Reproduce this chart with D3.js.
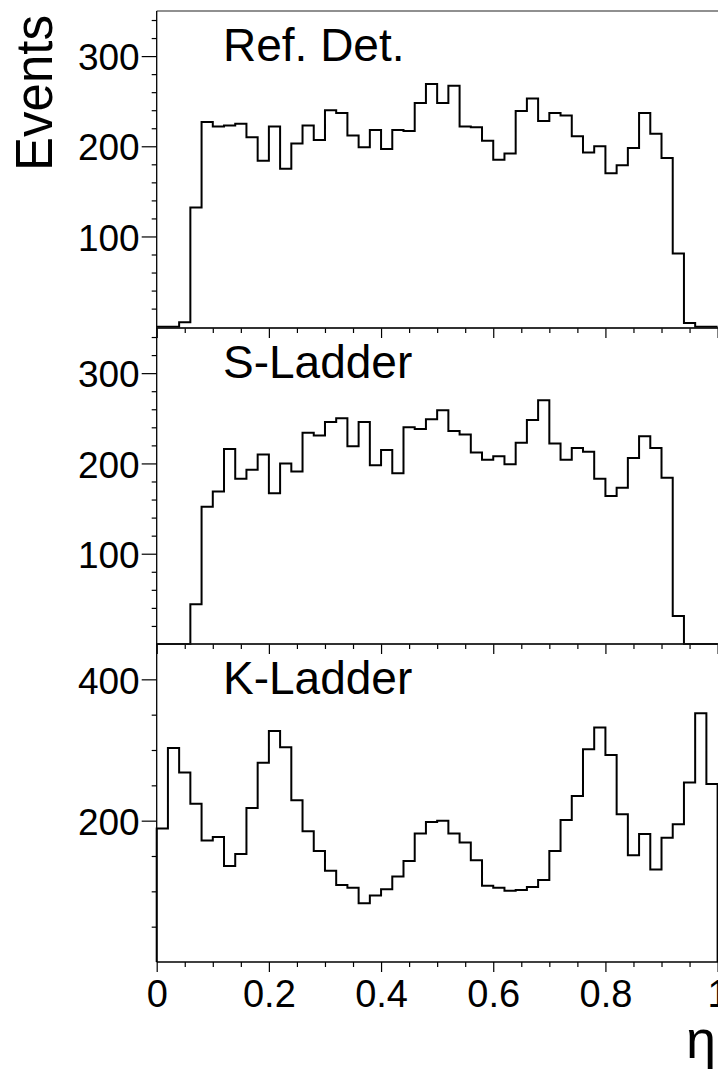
<!DOCTYPE html>
<html>
<head>
<meta charset="utf-8">
<script src="https://cdn.jsdelivr.net/npm/d3@7"></script>
<style>
  html, body { margin: 0; padding: 0; background: #fff; }
  svg { display: block; }
  text { font-family: "Liberation Sans", Arial, Helvetica, sans-serif; fill: #000; }
</style>
</head>
<body>
<svg id="chart" width="718" height="1069"></svg>
<script>
// Event counts per eta bin (50 bins of width 0.02 on [0, 1])
const refDet = [
  0, 0, 5, 132, 227, 222, 223, 225, 210, 184,
  222, 175, 203, 223, 207, 240, 237, 212, 199, 218,
  197, 218, 217, 248, 269, 248, 267, 222, 221, 206,
  185, 192, 239, 253, 228, 237, 234, 211, 193, 200,
  170, 179, 198, 237, 214, 187, 81, 4, 0, 0
];
const sLadder = [
  0, 0, 0, 44, 152, 169, 216, 183, 193, 210,
  167, 200, 191, 234, 231, 246, 250, 219, 246, 198,
  215, 189, 240, 238, 249, 259, 236, 232, 212, 204,
  208, 199, 223, 248, 270, 222, 204, 217, 213, 183,
  164, 173, 206, 230, 217, 184, 31, 0, 0, 0
];
const kLadder = [
  189, 303, 268, 224, 172, 177, 136, 153, 218, 282,
  327, 304, 229, 185, 157, 129, 109, 105, 83, 94,
  103, 121, 143, 182, 198, 200, 182, 169, 144, 108,
  105, 101, 102, 106, 116, 157, 201, 235, 301, 332,
  293, 209, 151, 181, 131, 176, 195, 254, 352, 252
];

const panelNames = ["Ref. Det.", "S-Ladder", "K-Ladder"];

const xMajorTicks = [0, 0.2, 0.4, 0.6, 0.8, 1];
const xTickLabels = ["0", "0.2", "0.4", "0.6", "0.8", "1"];
const xMinorTicks = [0.05, 0.1, 0.15, 0.25, 0.3, 0.35, 0.45, 0.5, 0.55, 0.65, 0.7, 0.75, 0.85, 0.9, 0.95];

const yMajorRefDet = [100, 200, 300];
const yMinorRefDet = [20, 40, 60, 80, 120, 140, 160, 180, 220, 240, 260, 280, 320, 340];
const yMajorSLadder = [100, 200, 300];
const yMinorSLadder = [20, 40, 60, 80, 120, 140, 160, 180, 220, 240, 260, 280, 320, 340];
const yMajorKLadder = [200, 400];
const yMinorKLadder = [50, 100, 150, 250, 300, 350];

const yRangeRefDet = [-1.5, 350];
const yRangeSLadder = [0, 350];
const yRangeKLadder = [0, 450];

// ---- layout ----
const svg = d3.select("#chart");
const plotLeft = 156.7, plotRight = 717.6;
const panelTop = [11, 328, 644];
const panelBottom = [328, 644, 962];
const nBins = refDet.length;

const x = d3.scaleLinear().domain([0, 1]).range([plotLeft, plotRight]);

const panels = [
  { name: panelNames[0], values: refDet, yDomain: yRangeRefDet, major: yMajorRefDet, minor: yMinorRefDet },
  { name: panelNames[1], values: sLadder, yDomain: yRangeSLadder, major: yMajorSLadder, minor: yMinorSLadder },
  { name: panelNames[2], values: kLadder, yDomain: yRangeKLadder, major: yMajorKLadder, minor: yMinorKLadder }
];

const axisColor = "#000";

panels.forEach((p, k) => {
  const y = d3.scaleLinear().domain(p.yDomain).range([panelBottom[k], panelTop[k]]);
  const g = svg.append("g");

  // top frame line
  g.append("line")
    .attr("x1", plotLeft).attr("x2", 718)
    .attr("y1", panelTop[k]).attr("y2", panelTop[k])
    .attr("stroke", "#222").attr("stroke-width", 1.2);

  // y axis: minor ticks, then major ticks with labels
  const yMinor = d3.axisLeft(y).tickValues(p.minor).tickSize(5).tickFormat("");
  const yMajor = d3.axisLeft(y).tickValues(p.major).tickSize(15).tickPadding(2)
    .tickFormat(d3.format("d"));
  const gyMin = g.append("g").attr("transform", `translate(${plotLeft},0)`).call(yMinor);
  const gyMaj = g.append("g").attr("transform", `translate(${plotLeft},0)`).call(yMajor);
  [gyMin, gyMaj].forEach(a => {
    a.select(".domain").remove();
    a.selectAll("line").attr("stroke", axisColor).attr("stroke-width", 1.2);
  });
  gyMaj.selectAll("text")
    .attr("font-size", 37).attr("font-family", "'Liberation Sans', Arial, sans-serif")
    .attr("dy", "0.37em").attr("fill", "#000");

  // left axis line
  g.append("line")
    .attr("x1", plotLeft).attr("x2", plotLeft)
    .attr("y1", panelTop[k]).attr("y2", panelBottom[k])
    .attr("stroke", axisColor).attr("stroke-width", 1.3);

  // x axis at panel bottom (ticks point downward)
  const xMinor = d3.axisBottom(x).tickValues(xMinorTicks).tickSize(5).tickFormat("");
  const xMajor = d3.axisBottom(x).tickValues(xMajorTicks).tickSize(10)
    .tickFormat((d, i) => xTickLabels[i]);
  const gxMin = g.append("g").attr("transform", `translate(0,${panelBottom[k]})`).call(xMinor);
  const gxMaj = g.append("g").attr("transform", `translate(0,${panelBottom[k]})`).call(xMajor);
  [gxMin, gxMaj].forEach(a => {
    a.select(".domain").remove();
    a.selectAll("line").attr("stroke", axisColor).attr("stroke-width", 1.2);
  });
  if (k === panels.length - 1) {
    gxMaj.selectAll("text")
      .attr("font-size", 38).attr("font-family", "'Liberation Sans', Arial, sans-serif")
      .attr("y", 45).attr("dy", 0).attr("fill", "#000");
  } else {
    gxMaj.selectAll("text").remove();
  }
  g.append("line")
    .attr("x1", plotLeft).attr("x2", 718)
    .attr("y1", panelBottom[k]).attr("y2", panelBottom[k])
    .attr("stroke", axisColor).attr("stroke-width", 1.3);

  // histogram outline
  const base = Math.max(p.yDomain[0], 0);
  const pts = [[0, base]];
  p.values.forEach((v, i) => {
    pts.push([i / nBins, v]);
    pts.push([(i + 1) / nBins, v]);
  });
  pts.push([1, base]);
  const line = d3.line().x(d => x(d[0])).y(d => y(d[1]));
  g.append("path")
    .attr("d", line(pts))
    .attr("fill", "none")
    .attr("stroke", "#000")
    .attr("stroke-width", 2)
    .attr("stroke-linejoin", "miter");

  // panel title
  g.append("text")
    .attr("x", 223).attr("y", panelTop[k] + 49.5)
    .attr("font-size", 46)
    .text(p.name);
});

// axis titles
svg.append("text")
  .attr("transform", "translate(51.7,15) rotate(-90)")
  .attr("text-anchor", "end")
  .attr("font-size", 51)
  .text("Events");

svg.append("text")
  .attr("x", 716).attr("y", 1058)
  .attr("text-anchor", "end")
  .attr("font-family", "'Liberation Serif', 'DejaVu Serif', serif")
  .attr("font-size", 54)
  .text("η");
</script>
</body>
</html>
